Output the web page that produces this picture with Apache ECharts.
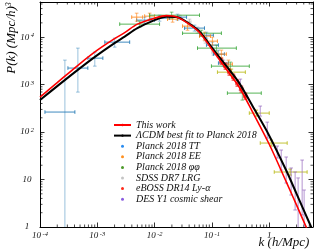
<!DOCTYPE html>
<html><head><meta charset="utf-8">
<script src="https://cdn.jsdelivr.net/npm/echarts@6/dist/echarts.min.js"></script>
<style>html,body{margin:0;padding:0;background:#fff}#c{width:316px;height:249px}</style>
</head><body><div id="c"></div>
<script>
// ---- axis ticks / labels ----
const xTickValues = [1e-4, 1e-3, 1e-2, 1e-1, 1];
const xTickLabels = ['10{s|-4}', '10{s|-3}', '10{s|-2}', '10{s|-1}', '1'];
const yTickValues = [1, 10, 100, 1000, 10000];
const yTickLabels = ['1', '10', '10{s|2}', '10{s|3}', '10{s|4}'];
const xRange = [1e-4, 5.8];
const yRange = [1, 55000];

// ---- model curves ----
const curveK    = [1e-4, 2e-4, 5e-4, 1e-3, 2e-3, 3e-3, 5e-3, 1e-2, 1.6e-2, 2.5e-2, 4e-2, 6e-2, 0.1, 0.15, 0.2, 0.3, 0.5, 1, 2, 3, 5, 6];
const thisWorkP = [546, 1102, 2780, 5320, 9300, 12440, 18780, 25120, 28370, 26370, 18780, 12700, 5510, 2810, 1746, 881, 280, 55.4, 8.7, 2.89, 0.71, 0.45];
const lcdmP     = [472, 930, 2225, 4180, 7480, 10250, 15460, 22800, 27020, 26370, 19240, 13370, 6010, 3200, 2070, 1076, 370, 84, 15.1, 5.0, 1.23, 0.75];

// ---- data points: [k, P, kLow, kHigh, PLow, PHigh] ----
const planckTT = [
  [2.72e-4, 264, 1.22e-4, 4.06e-4, 0.3, 3280],
  [4.58e-4, 2230, 3.07e-4, 6.84e-4, 695, 5870],
  [9.04e-4, 3610, 6.84e-4, 1.25e-3, 2450, 4830],
  [2.01e-3, 7850, 1.35e-3, 3.67e-3, 6160, 9530],
  [6.7e-3, 22800, 4.86e-3, 0.01, 19700, 26400],
  [0.0122, 25100, 8.19e-3, 0.0182, 21700, 29000],
  [0.0251, 26400, 0.0182, 0.0361, 22800, 30500],
  [0.0497, 15500, 0.0333, 0.0741, 13400, 17900],
  [0.0802, 11000, 0.0607, 0.106, 9530, 12700],
  [0.102, 6790, 0.0802, 0.1298, 5870, 7850],
  [0.1298, 4390, 0.106, 0.165, 3790, 5330],
  [0.1585, 2840, 0.1298, 0.1937, 2450, 3280]
];
const planckEE = [
  [4.86e-3, 26400, 3.98e-3, 6.18e-3, 21700, 32000],
  [8.19e-3, 27700, 6.7e-3, 0.01, 23900, 32000],
  [0.0206, 23900, 0.0168, 0.0251, 20700, 27700],
  [0.0375, 17060, 0.0307, 0.0458, 14000, 20700],
  [0.0741, 10500, 0.0607, 0.0942, 8650, 12700],
  [0.102, 8240, 0.0836, 0.1247, 6790, 10000],
  [0.1462, 4390, 0.1247, 0.1787, 3610, 5330],
  [0.1937, 2700, 0.165, 0.2272, 2230, 3280]
];
const planckPhiPhi = [
  [5.48e-3, 18800, 2.46e-3, 0.0122, 16300, 21700],
  [0.0198, 29000, 8.19e-3, 0.0607, 25100, 33600],
  [0.0656, 12100, 0.0307, 0.1462, 10500, 14000],
  [0.1197, 5870, 0.056, 0.2667, 5070, 6790],
  [0.2098, 2450, 0.098, 0.449, 2020, 2980],
  [0.339, 662, 0.186, 0.726, 472, 844]
];
const sdssLRG = [
  [0.0272, 26400, 0.0256, 0.0289, 23900, 29000],
  [0.0406, 20700, 0.0382, 0.0431, 17900, 23900],
  [0.056, 14000, 0.0527, 0.0595, 12100, 16300],
  [0.0771, 8650, 0.0726, 0.0819, 7480, 10000],
  [0.106, 4830, 0.0998, 0.1126, 4180, 5590]
];
const ebossLya = [
  [0.146, 3130, 0.138, 0.155, 2700, 3610],
  [0.172, 2450, 0.162, 0.182, 2120, 2840],
  [0.201, 1830, 0.190, 0.213, 1585, 2120],
  [0.237, 1440, 0.223, 0.251, 1244, 1660],
  [0.277, 1076, 0.262, 0.294, 929, 1244],
  [0.326, 804, 0.307, 0.345, 695, 929],
  [0.383, 573, 0.361, 0.406, 495, 662]
];
const desY1 = [
  [0.313, 1025, 0.313, 0.313, 766, 1306],
  [0.697, 277, 0.697, 0.697, 217, 353],
  [0.923, 110, 0.923, 0.923, 74.8, 162],
  [1.377, 37.9, 1.377, 1.377, 28.4, 50.7],
  [1.618, 25.7, 1.618, 1.618, 15.8, 41.8],
  [1.976, 15.8, 1.976, 1.976, 8.44, 29.8],
  [2.413, 9.76, 2.413, 2.413, 4.72, 17.5],
  [2.83, 6.62, 2.83, 2.83, 2.28, 14.4],
  [3.19, 4.08, 3.19, 3.19, 0.86, 10.8],
  [3.75, 7.66, 3.75, 3.75, 1.79, 25.7],
  [4.06, 2.28, 4.06, 4.06, 0.8, 6.01]
];
const wideBins = [
  [0.2183, 1830, 0.1247, 0.383, 1585, 2120],
  [0.594, 251, 0.449, 1.0, 217, 290],
  [1.083, 58.7, 0.697, 2.056, 50.7, 67.9],
  [2.317, 14.4, 1.222, 4.58, 12.4, 16.6]
];

// ---- helpers ----
const FONT = 'Liberation Serif';
function tickLabel(values, labels) {
  return function (v) {
    for (let i = 0; i < values.length; i++) {
      if (Math.abs(Math.log10(v) - Math.log10(values[i])) < 1e-6) return labels[i];
    }
    return '';
  };
}
function errorBars(hColor, vColor, lw, cap) {
  return function (params, api) {
    const k = api.value(0), p = api.value(1);
    const c = api.coord([k, p]);
    const l = api.coord([api.value(2), p]);
    const r = api.coord([api.value(3), p]);
    const lo = api.coord([k, api.value(4)]);
    const hi = api.coord([k, api.value(5)]);
    const ln = (x1, y1, x2, y2, col) => ({ type: 'line', shape: { x1, y1, x2, y2 }, style: { stroke: col, lineWidth: lw } });
    const ch = [];
    if (r[0] - l[0] > 0.5) {
      ch.push(ln(l[0], c[1], r[0], c[1], hColor), ln(l[0], c[1] - cap, l[0], c[1] + cap, hColor), ln(r[0], c[1] - cap, r[0], c[1] + cap, hColor));
    }
    if (lo[1] - hi[1] > 0.5) {
      ch.push(ln(c[0], lo[1], c[0], hi[1], vColor), ln(c[0] - cap, lo[1], c[0] + cap, lo[1], vColor), ln(c[0] - cap, hi[1], c[0] + cap, hi[1], vColor));
    }
    return { type: 'group', children: ch };
  };
}
function errSeries(name, data, color, hColor, vColor, lw) {
  return {
    name, type: 'custom', coordinateSystem: 'cartesian2d', clip: true, z: 2,
    dimensions: ['k', 'P', 'kLo', 'kHi', 'PLo', 'PHi'], encode: { x: 0, y: 1 },
    itemStyle: { color }, renderItem: errorBars(hColor, vColor, lw, 1.8), data, silent: true
  };
}
// minor ticks at 2..9 x 10^n
const minorX = [], minorY = [];
for (let e = -4; e <= 0; e++) for (let m = 2; m <= 9; m++) { const v = m * Math.pow(10, e); if (v < xRange[1]) minorX.push([v, yRange[0]]); }
for (let e = 0; e <= 4; e++) for (let m = 2; m <= 9; m++) { const v = m * Math.pow(10, e); if (v < yRange[1]) minorY.push([xRange[0], v]); }

const axisCommon = {
  type: 'log', logBase: 10, splitNumber: 5, splitLine: { show: false },
  axisLine: { lineStyle: { color: '#000', width: 1 } },
  axisTick: { inside: true, length: 4.5, lineStyle: { color: '#000', width: 0.8 } }
};
const richSup = {
  s: { fontSize: 6.5, fontFamily: FONT, fontStyle: 'italic', verticalAlign: 'top', lineHeight: 6, padding: [0, 0, 0, 1.5], color: '#111' }
};

const chart = echarts.init(document.getElementById('c'), null, { renderer: 'canvas' });
chart.setOption({
  animation: false,
  backgroundColor: '#fff',
  grid: { left: 40, right: 2, top: 2, bottom: 22 },
  xAxis: [
    Object.assign({}, axisCommon, {
      position: 'bottom', min: xRange[0], max: xRange[1],
      axisLabel: { margin: 4, fontFamily: FONT, fontStyle: 'italic', fontSize: 9, lineHeight: 10, color: '#111',
        formatter: tickLabel(xTickValues, xTickLabels), rich: richSup }
    }),
    Object.assign({}, axisCommon, { position: 'top', min: xRange[0], max: xRange[1], axisLabel: { show: false } })
  ],
  yAxis: [
    Object.assign({}, axisCommon, {
      position: 'left', min: yRange[0], max: yRange[1],
      axisLabel: { margin: 13, align: 'center', fontFamily: FONT, fontStyle: 'italic', fontSize: 9, lineHeight: 10, color: '#111',
        formatter: tickLabel(yTickValues, yTickLabels), rich: richSup }
    }),
    Object.assign({}, axisCommon, { position: 'right', min: yRange[0], max: yRange[1], axisLabel: { show: false } })
  ],
  legend: {
    orient: 'vertical', left: 113, top: 120, padding: 0, itemGap: 0.6,
    itemWidth: 17, itemHeight: 3,
    textStyle: { fontFamily: FONT, fontStyle: 'italic', fontSize: 10, lineHeight: 10, color: '#111' },
    data: [
      { name: 'This work' },
      { name: 'ΛCDM best fit to Planck 2018' },
      { name: 'Planck 2018 TT', icon: 'circle', itemStyle: { color: '#2a8cf0' } },
      { name: 'Planck 2018 EE', icon: 'circle', itemStyle: { color: '#ff9020' } },
      { name: 'Planck 2018 φφ', icon: 'circle', itemStyle: { color: '#4c9a2a' } },
      { name: 'SDSS DR7 LRG', icon: 'circle', itemStyle: { color: '#c4c4c4' } },
      { name: 'eBOSS DR14 Ly-α', icon: 'circle', itemStyle: { color: '#ff2a1a' } },
      { name: 'DES Y1 cosmic shear', icon: 'circle', itemStyle: { color: '#8a5ce0' } }
    ]
  },
  graphic: [
    { type: 'text', x: 12, y: 38, rotation: Math.PI / 2, silent: true,
      style: { text: '{m|P(k) (Mpc/h)}{s|3}', align: 'center', verticalAlign: 'middle',
        rich: { m: { fontFamily: FONT, fontStyle: 'italic', fontSize: 13, lineHeight: 15, color: '#111' },
                s: { fontFamily: FONT, fontStyle: 'italic', fontSize: 8, verticalAlign: 'top', lineHeight: 8, color: '#111' } } } },
    { type: 'text', x: 284, y: 243, silent: true,
      style: { text: 'k (h/Mpc)', align: 'center', verticalAlign: 'middle', fontFamily: FONT, fontStyle: 'italic', fontSize: 13, fill: '#111' } }
  ],
  series: [
    { name: 'minorX', type: 'custom', coordinateSystem: 'cartesian2d', silent: true, encode: { x: 0, y: 1 }, data: minorX,
      renderItem: function (params, api) {
        const cs = params.coordSys; const x = api.coord([api.value(0), api.value(1)])[0];
        return { type: 'group', children: [
          { type: 'line', shape: { x1: x, y1: cs.y + cs.height, x2: x, y2: cs.y + cs.height - 2.5 }, style: { stroke: '#000', lineWidth: 0.7 } },
          { type: 'line', shape: { x1: x, y1: cs.y, x2: x, y2: cs.y + 2.5 }, style: { stroke: '#000', lineWidth: 0.7 } } ] };
      } },
    { name: 'minorY', type: 'custom', coordinateSystem: 'cartesian2d', silent: true, encode: { x: 0, y: 1 }, data: minorY,
      renderItem: function (params, api) {
        const cs = params.coordSys; const y = api.coord([api.value(0), api.value(1)])[1];
        return { type: 'group', children: [
          { type: 'line', shape: { x1: cs.x, y1: y, x2: cs.x + 2.5, y2: y }, style: { stroke: '#000', lineWidth: 0.7 } },
          { type: 'line', shape: { x1: cs.x + cs.width, y1: y, x2: cs.x + cs.width - 2.5, y2: y }, style: { stroke: '#000', lineWidth: 0.7 } } ] };
      } },
    errSeries('SDSS DR7 LRG', sdssLRG, '#c4c4c4', 'rgba(160,160,160,0.6)', 'rgba(160,160,160,0.6)', 0.9),
    errSeries('Planck 2018 TT', planckTT, '#2a8cf0', 'rgba(31,119,180,0.85)', 'rgba(31,119,180,0.45)', 1),
    errSeries('Planck 2018 EE', planckEE, '#ff9020', 'rgba(255,127,14,0.8)', 'rgba(255,127,14,0.6)', 1),
    errSeries('Planck 2018 φφ', planckPhiPhi, '#4c9a2a', 'rgba(44,160,44,0.8)', 'rgba(44,160,44,0.6)', 1),
    errSeries('Wide k bins', wideBins, '#bcbd22', 'rgba(188,189,34,0.9)', 'rgba(188,189,34,0.9)', 1),
    errSeries('DES Y1 cosmic shear', desY1, '#8a5ce0', 'rgba(148,103,189,0.7)', 'rgba(148,103,189,0.7)', 1),
    errSeries('eBOSS DR14 Ly-α', ebossLya, '#ff2a1a', 'rgba(230,40,30,0.9)', 'rgba(230,40,30,0.9)', 1.2),
    { name: 'ΛCDM best fit to Planck 2018', type: 'line', smooth: 0.3, symbol: 'none', z: 3, silent: true,
      lineStyle: { color: '#000', width: 2 }, itemStyle: { color: '#000' },
      data: curveK.map((k, i) => [k, lcdmP[i]]) },
    { name: 'This work', type: 'line', smooth: 0.3, symbol: 'none', z: 4, silent: true,
      lineStyle: { color: '#ff0000', width: 1.6 }, itemStyle: { color: '#ff0000' },
      data: curveK.map((k, i) => [k, thisWorkP[i]]) }
  ]
});
</script></body></html>
